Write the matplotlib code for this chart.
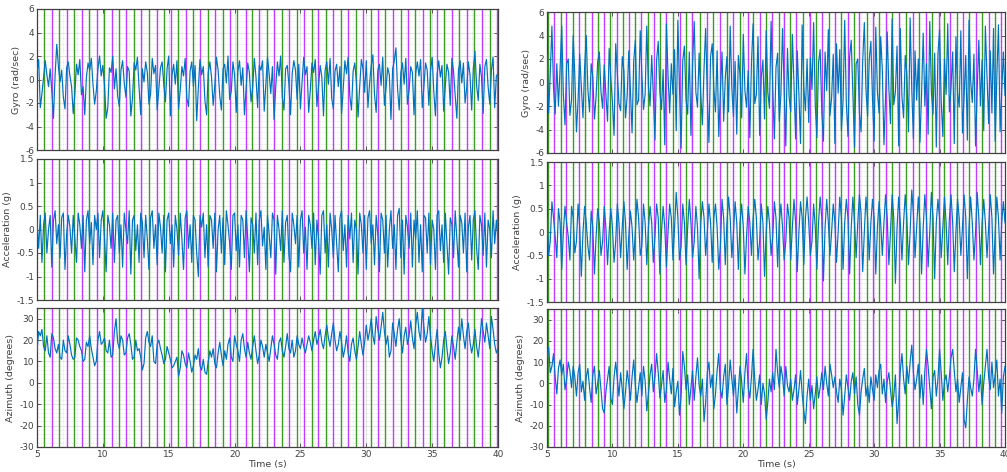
import numpy as np
import matplotlib
matplotlib.use("Agg")
import matplotlib.pyplot as plt
from matplotlib.ticker import MultipleLocator, FuncFormatter

plt.rcParams['axes.unicode_minus'] = False

# ---- data (0.125 s sampling) ----
t0, dt = 5.0, 0.125

# left column (walk 1)
gyro_L = [
    0.6, 1.7, -2.4, -1.2, 0.2, 1.6, 0.4, -0.6,
    0.9, -1.0, -3.3, 0.4, 3.0, 1.1, -0.2, 0.8,
    -1.5, -2.5, 1.0, 1.5, 0.3, -0.6, -2.9, -1.2,
    1.3, 0.4, 1.7, -1.3, -0.6, -3.0, 0.2, 1.4,
    0.8, 1.8, -0.4, -2.1, -1.0, 0.9, 2.0, 0.3,
    1.2, -0.5, -3.3, -2.4, 1.0, 0.6, 2.0, -0.8,
    0.9, -1.4, -2.3, 0.8, 1.6, -0.3, -1.5, 1.1,
    0.7, -3.1, -1.6, 1.4, 0.8, 1.9, -0.7, -3.0,
    0.9, -0.2, 1.5, 0.6, -2.1, -1.2, 1.8, 0.5,
    1.2, -2.6, -0.8, 1.0, 1.5, -0.4, -1.9, 0.9,
    2.0, -3.1, 0.4, 1.3, -0.4, 1.6, -2.5, -0.9,
    1.1, 0.3, 1.8, -1.6, -2.3, 0.7, 1.5, -0.6,
    1.2, -3.5, -0.7, 1.7, 0.4, 1.1, -1.8, -3.0,
    0.6, 1.5, 0.2, -2.2, -0.5, 1.9, 0.8, -1.4,
    -2.6, 0.9, 1.3, -0.3, 2.0, -1.7, -1.0, 1.5,
    0.4, -2.8, 0.7, 1.6, -0.5, 1.0, -3.0, -0.8,
    1.4, 0.6, -1.9, -0.7, 1.8, 0.2, -2.4, 1.2,
    0.8, 1.6, -2.7, -0.4, 1.9, 0.5, -1.2, 1.1,
    -3.4, -0.6, 1.5, 0.3, 2.0, -1.5, -2.6, 0.9,
    1.2, -0.4, -3.0, 0.5, 1.6, 0.8, -1.7, 1.3,
    -2.5, -0.2, 1.9, 0.4, 1.1, -2.8, -0.9, 1.4,
    0.6, 1.7, -2.3, -0.5, 1.2, 0.2, -3.1, 0.8,
    1.5, -0.4, 1.8, -1.6, -2.5, 0.7, 1.3, -0.6,
    1.1, -2.9, -0.8, 1.6, 0.5, 1.9, -1.4, -2.6,
    0.7, 1.4, -0.2, -3.2, -0.6, 1.7, 0.9, -1.1,
    1.6, -2.4, -0.3, 1.2, 2.1, -1.3, -2.8, 0.8,
    1.3, -0.5, 1.9, -2.2, -0.7, 1.0, 0.4, -3.4,
    0.9, 1.6, 2.7, -0.8, -2.6, 0.6, 1.4, -0.4,
    1.8, -2.1, -0.9, 1.1, 0.6, -3.0, 0.5, 1.5,
    0.3, 1.7, -2.4, -0.6, 1.4, 0.8, -2.2, 0.7,
    1.9, -1.0, -3.1, 0.4, 1.6, 0.2, 1.2, -2.7,
    -0.5, 1.3, 0.6, -2.2, 1.8, 0.7, -1.4, -3.3,
    0.8, 1.6, -0.3, 1.4, -2.0, -0.7, 1.5, 0.4,
    -2.6, 0.9, 2.4, -0.5, -1.8, 1.3, 0.2, -2.9,
    1.1, 1.7, -0.6, -2.1, 0.8, 1.9, -2.4, 0.3,
    0.5]

acc_L = [
    0.2, -0.4, 0.3, -0.7, 0.1, 0.35, -0.5, 0.0,
    0.3, -0.8, 0.2, 0.4, -0.3, 0.1, -0.6, 0.25,
    0.35, -0.85, -0.1, 0.3, 0.05, -0.5, 0.3, -0.2,
    -0.7, 0.35, 0.1, -0.4, 0.3, -0.9, 0.2, 0.4,
    -0.3, 0.15, -0.75, 0.3, 0.0, 0.35, -0.6, 0.2,
    0.4, -0.2, -0.9, 0.3, 0.1, -0.4, 0.35, -0.7,
    0.2, 0.3, -0.5, 0.1, -0.8, 0.35, 0.0, -0.3,
    0.4, -0.95, 0.2, 0.3, -0.45, 0.1, -0.7, 0.35,
    0.15, -0.6, 0.3, -0.2, -0.85, 0.25, 0.4, -0.4,
    0.1, -0.75, 0.35, 0.05, -0.5, 0.3, -0.9, 0.2,
    0.35, -0.3, 0.1, -0.8, 0.3, 0.0, -0.55, 0.35,
    -0.2, -0.85, 0.25, 0.4, -0.4, 0.1, -0.7, 0.3,
    0.2, -0.5, -1.0, 0.3, 0.05, 0.35, -0.6, 0.1,
    -0.8, 0.3, 0.2, -0.4, 0.35, -0.9, 0.0, 0.3,
    -0.5, 0.25, -0.75, 0.4, 0.1, -0.3, -0.85, 0.3,
    0.35, -0.45, 0.1, -0.8, 0.3, 0.2, -0.6, 0.4,
    -0.2, -0.9, 0.25, 0.1, -0.5, 0.35, -0.75, 0.2,
    0.4, -0.35, 0.05, -0.85, 0.3, -0.1, -0.6, 0.35,
    0.2, -0.95, 0.3, 0.0, -0.45, 0.4, -0.7, 0.15,
    0.3, -0.55, -0.9, 0.35, 0.1, -0.3, 0.3, -0.8,
    0.2, 0.4, -0.5, 0.05, -0.85, 0.3, 0.1, -0.4,
    0.35, -0.75, 0.2, -0.2, -0.95, 0.3, 0.4, -0.5,
    0.1, -0.8, 0.35, 0.0, -0.6, 0.3, -0.3, -0.9,
    0.25, 0.4, -0.45, 0.1, -0.8, 0.3, -0.2, 0.35,
    -0.7, 0.2, 0.0, -0.95, 0.35, 0.1, -0.5, 0.3,
    -0.85, 0.25, 0.4, -0.3, 0.1, -0.75, 0.3, -0.1,
    -0.9, 0.35, 0.2, -0.5, 0.3, -0.8, 0.0, 0.4,
    -0.4, 0.1, -0.85, 0.3, 0.45, -0.6, 0.2, -0.95,
    0.3, 0.05, -0.4, 0.35, -0.8, 0.2, -0.2, 0.4,
    -0.7, 0.1, -0.9, 0.3, 0.25, -0.5, 0.35, -0.75,
    0.2, 0.0, -0.85, 0.3, 0.4, -0.45, 0.1, -0.7,
    0.35, -0.3, -0.95, 0.25, 0.1, -0.6, 0.4, -0.2,
    -0.8, 0.3, 0.15, -0.5, 0.35, -0.9, 0.05, 0.3,
    -0.65, 0.2, 0.4, -0.4, -0.85, 0.3, 0.1, -0.55,
    0.35, -0.8, 0.2, 0.0, -0.6, 0.4, -0.3, 0.2,
    -0.2]

azi_L = [
    15, 24, 22, 25, 17, 15, 22, 14,
    12, 23, 21, 16, 14, 18, 12, 11,
    20, 15, 14, 22, 18, 13, 11, 12,
    21, 20, 17, 15, 10, 11, 19, 17,
    22, 16, 12, 8, 10, 20, 24, 18,
    19, 21, 15, 14, 20, 12, 13, 24,
    30, 19, 16, 22, 20, 13, 14, 21,
    23, 18, 11, 12, 20, 15, 16, 12,
    6, 9, 21, 24, 19, 17, 22, 10,
    9, 18, 20, 16, 13, 9, 11, 17,
    14, 11, 7, 8, 10, 12, 3, 7,
    15, 13, 9, 7, 14, 10, 5, 8,
    13, 11, 16, 8, 6, 11, 5, 4,
    10, 15, 12, 16, 9, 7, 14, 19,
    13, 8, 15, 11, 18, 21, 12, 10,
    22, 18, 15, 10, 20, 23, 16, 12,
    19, 14, 11, 17, 22, 15, 9, 13,
    20, 17, 12, 18, 14, 10, 16, 22,
    18, 13, 11, 19, 21, 15, 12, 17,
    23, 16, 14, 20, 12, 15, 22, 18,
    16, 21, 17, 14, 18, 22, 19, 15,
    20, 24, 18, 21, 25, 19, 16, 22,
    27, 21, 17, 23, 28, 20, 15, 18,
    24, 19, 12, 16, 22, 14, 10, 18,
    21, 15, 11, 17, 24, 18, 13, 19,
    27, 20, 24, 30, 22, 18, 31, 25,
    20, 26, 33, 24, 18, 22, 12, 15,
    28, 23, 17, 25, 30, 20, 14, 22,
    26, 18, 22, 29, 21, 16, 27, 33,
    24, 20, 35, 26, 19, 23, 31, 22,
    15, 10, 18, 25, 14, 7, 12, 20,
    24, 16, 9, 14, 22, 17, 11, 19,
    26, 20, 30, 22, 16, 24, 28, 19,
    14, 18, 25, 17, 12, 20, 30, 24,
    19, 28, 22, 16, 31, 25, 18, 14,
    16]

# right column (walk 2)
gyro_R = [
    2.4, -2.6, 0.8, 4.8, -0.5, -2.7, 1.6, -2.0,
    1.2, 4.8, -1.0, -3.6, 1.6, 2.0, -2.8, -1.5,
    4.0, 0.6, -4.2, -1.5, 2.4, -0.4, -3.0, 1.3,
    4.0, -0.6, -2.5, 1.6, 0.5, -3.1, -1.2, 1.8,
    2.6, -0.8, -2.2, 1.5, -1.0, -3.3, 2.9, 0.4,
    -1.7, -4.5, 3.3, 0.8, -1.8, -2.4, 2.2, 1.0,
    -3.0, -1.2, 2.7, -0.6, -4.3, 1.8, 3.6, -1.9,
    -1.5, 4.4, 0.7, -2.3, -1.0, 4.8, -0.3, -2.0,
    2.3, -1.0, -4.9, 1.9, 3.5, -0.8, -2.3, 1.1,
    -5.3, 5.0, 0.6, -2.6, 1.6, -1.0, 2.8, -4.1,
    5.3, -0.4, -5.6, 1.9, 3.1, -1.5, -2.7, 2.6,
    -4.5, 1.6, 5.2, -0.8, -2.1, 2.5, -1.0, -3.6,
    1.2, 4.6, -1.2, -5.1, 2.2, 3.3, -0.5, -2.5,
    2.7, -4.6, -0.8, 2.6, -3.3, 0.4, 2.2, -2.5,
    4.8, -0.5, -2.9, 1.8, -4.4, 2.3, 0.6, -3.0,
    4.1, -0.7, -2.1, 1.0, -4.7, 1.7, 5.0, -1.8,
    -1.0, 3.9, -4.5, 0.5, 1.9, -3.1, 4.4, -0.8,
    -2.2, 5.2, -0.4, -4.8, 1.3, 2.5, -3.3, -1.0,
    4.6, -0.6, -5.4, 2.9, -1.2, -2.5, 4.1, -0.2,
    -4.8, 2.7, -1.0, -5.2, 4.9, -0.4, -2.4, 2.0,
    -3.4, 2.1, -0.6, 5.1, -1.9, -4.7, 1.7, 2.8,
    -2.5, -5.0, 2.6, -0.7, 4.5, -2.8, -1.3, 2.4,
    -5.2, 3.3, -0.9, 2.8, -4.1, -1.6, 5.3, -1.8,
    -4.6, 2.2, 3.6, -1.0, -5.5, 1.6, 2.0, -2.6,
    -4.2, 1.8, 5.1, -0.6, -2.9, 1.9, 3.5, -1.4,
    -5.0, 4.7, -0.8, -2.6, 3.9, 1.1, -5.3, -1.2,
    4.3, -0.5, -3.5, 5.4, -1.9, -0.8, 3.1, -5.4,
    4.6, -1.2, -3.0, 2.3, 0.7, -4.2, 5.5, -0.6,
    -4.8, 2.7, -1.5, 2.0, -5.1, -1.0, 4.2, -2.0,
    1.6, -4.4, 5.2, -0.8, -2.7, 2.5, -5.5, 2.4,
    4.5, -1.6, -4.6, 2.0, -1.0, 5.0, -2.5, -0.4,
    2.6, -5.2, 3.9, -0.9, -2.1, 4.4, -4.3, -1.2,
    2.3, -4.9, 5.3, 0.2, -1.7, 2.4, -5.4, -0.6,
    3.6, -2.0, 1.9, -4.1, 4.8, 0.5, -3.5, 2.7,
    -2.6, 4.6, -5.0, 0.4, 4.9, -4.2, -0.8, 2.6,
    -1.1]

acc_R = [
    0.3, -0.5, -0.2, 0.65, 0.3, -0.1, -0.55, 0.5,
    0.2, -0.8, 0.0, 0.55, 0.2, -0.1, -0.6, 0.55,
    0.3, -0.45, -0.2, 0.6, 0.1, -0.95, 0.0, 0.55,
    0.2, -0.3, -0.6, 0.45, 0.1, -0.9, -0.1, 0.5,
    0.2, -0.5, -0.2, 0.55, 0.1, -0.7, 0.0, 0.5,
    0.1, -0.65, -0.2, 0.6, 0.2, -0.55, 0.1, 0.65,
    0.2, -0.8, -0.1, 0.45, 0.1, -0.6, 0.0, 0.7,
    0.3, -0.5, -0.3, 0.6, 0.2, -0.7, 0.1, 0.55,
    0.2, -0.65, -0.1, 0.6, 0.3, -0.9, 0.0, 0.55,
    0.1, -0.75, 0.0, 0.6, 0.3, -0.6, 0.1, 0.85,
    0.3, -0.6, -0.3, 0.6, 0.2, -0.7, 0.1, 0.7,
    0.2, -0.55, -0.2, 0.55, 0.1, -1.0, 0.2, 0.65,
    0.3, -0.5, 0.0, 0.6, 0.2, -0.65, 0.3, 0.6,
    0.1, -0.8, -0.3, 0.7, 0.3, -0.7, 0.2, 0.75,
    0.3, -0.55, 0.0, 0.65, 0.2, -0.8, 0.2, 0.6,
    0.1, -0.9, -0.1, 0.55, 0.2, -0.5, 0.3, 0.7,
    0.3, -0.6, -0.2, 0.6, 0.2, -0.95, 0.0, 0.55,
    0.2, -0.5, -0.1, 0.65, 0.3, -0.75, 0.2, 0.6,
    0.1, -0.6, -0.2, 0.6, 0.3, -0.6, 0.1, 0.7,
    0.2, -0.85, 0.0, 0.65, 0.3, -0.7, 0.3, 0.75,
    0.2, -0.5, -0.2, 0.6, 0.1, -0.8, 0.2, 0.75,
    0.3, -1.05, 0.1, 0.7, 0.2, -0.5, 0.0, 0.6,
    0.2, -0.65, 0.0, 0.75, 0.3, -0.8, 0.2, 0.7,
    0.3, -0.9, 0.1, 0.75, 0.2, -0.55, 0.2, 0.8,
    0.4, -0.85, 0.0, 0.75, 0.3, -0.6, 0.2, 0.7,
    0.3, -0.9, 0.1, 0.65, 0.2, -0.5, 0.2, 0.8,
    0.3, -0.7, 0.0, 0.8, 0.3, -1.1, 0.1, 0.75,
    0.2, -0.6, 0.2, 0.8, 0.3, -0.7, 0.0, 0.9,
    0.4, -0.55, 0.1, 0.75, 0.2, -0.9, 0.1, 0.8,
    0.3, -0.75, 0.0, 0.85, 0.3, -1.0, 0.2, 0.7,
    0.3, -0.55, 0.1, 0.75, 0.2, -0.7, 0.3, 0.8,
    0.2, -0.85, 0.0, 0.7, 0.3, -0.5, 0.1, 0.8,
    0.3, -1.0, 0.1, 0.75, 0.2, -0.6, 0.0, 0.85,
    0.3, -0.7, 0.2, 0.7, 0.2, -0.55, 0.1, 0.8,
    0.3, -0.9, 0.0, 0.75, 0.3, -0.6, 0.2, 0.65,
    0.2]

azi_R = [
    12, 17, 5, 8, 14, 3, -5, 7,
    11, 4, 9, -3, 2, 10, 6, -2,
    8, 3, -6, 5, 9, -4, 1, -8,
    3, 7, -2, -9, 4, 8, -5, 0,
    6, -3, -12, -14, -4, 2, 8, -7,
    -10, 3, 10, 2, -6, 5, -3, -12,
    -4, 6, 0, -8, 3, 11, -1, -9,
    -2, 5, -6, 8, 1, -13, -5, 4,
    9, -4, 3, 14, 5, -7, -1, 6,
    -9, -3, 10, 2, -5, 7, -11, -4,
    1, -15, -6, 15, 8, -3, 4, -10,
    -2, 6, -8, 3, 12, -1, -6, 2,
    -18, -9, 5, 10, -2, 4, -12, -5,
    6, 14, -3, -7, 3, 9, -10, -1,
    11, 2, -6, 4, -14, -3, 8, 1,
    -9, 5, 14, -2, -7, 3, 16, 2,
    -8, -3, 4, -10, 0, -5, -17, -9,
    2, -4, 5, -3, 16, 5, -2, 8,
    3, -6, 8, -1, -4, 2, -8, -3,
    4, -10, -3, 6, -5, -13, -19, -6,
    2, -8, -1, -12, -5, 3, -7, -2,
    5, -3, 8, 0, -6, 9, 4, -2,
    3, -4, -9, 2, -3, -15, -6, 4,
    -2, -8, 1, 5, -5, 3, -10, -15,
    -4, 2, 7, -6, -1, -9, 3, -3,
    -8, 4, -2, 6, 9, -5, 2, -9,
    1, 5, -3, -11, -6, 4, -19, -8,
    6, 14, 2, -5, 8, 0, 10, 18,
    5, -3, 2, 9, -7, 4, -10, 6,
    16, 8, -2, -12, 3, 6, -6, 2,
    16, 5, -8, 1, 4, -4, 3, 12,
    16, 6, -4, 2, -9, -2, 5, -17,
    -21, -8, 3, -2, -6, 2, 16, 6,
    -4, 4, -10, 0, 8, 16, 3, -3,
    10, -2, 4, 11, -6, 2, -14, 3,
    8]

# step events (s)
green_L = [5.53, 6.68, 7.82, 8.96, 10.10, 11.22, 12.34, 13.50, 14.62, 15.71,
           16.85, 17.97, 19.14, 20.20, 21.30, 22.44, 23.58, 24.72, 25.86, 26.94,
           28.06, 29.20, 30.34, 31.42, 32.61, 33.70, 34.84, 35.93, 37.07, 38.20,
           39.40]
mag_L = [6.17, 7.26, 8.38, 9.54, 10.66, 11.78, 12.92, 14.11, 15.18, 16.32,
         17.41, 18.55, 19.64, 20.84, 21.88, 23.02, 24.13, 25.30, 26.36, 27.50,
         28.64, 29.78, 30.92, 32.01, 33.15, 34.29, 35.40, 36.54, 37.67, 38.81,
         39.95]
green_R = [5.08, 6.07, 6.98, 7.87, 8.89, 9.82, 10.79, 11.73, 12.74, 13.64,
           14.65, 15.59, 16.68, 17.70, 18.72, 19.73, 20.75, 21.72, 22.73, 23.60,
           24.56, 25.53, 26.52, 27.48, 28.45, 29.44, 30.40, 31.37, 32.44, 33.45,
           34.42, 35.36, 36.30, 37.26, 38.28, 39.22]
mag_R = [5.56, 6.47, 7.46, 8.43, 9.39, 10.38, 11.25, 12.21, 13.18, 14.09,
         15.16, 16.05, 17.24, 18.21, 19.22, 20.37, 21.26, 22.23, 23.11, 24.05,
         25.07, 26.04, 27.03, 27.99, 28.88, 29.89, 30.91, 31.93, 32.94, 33.96,
         34.92, 35.81, 36.81, 37.77, 38.79, 39.72]

ylabels = ['Gyro (rad/sec)', 'Acceleration (g)', 'Azimuth (degrees)']
ylims = [(-6, 6), (-1.5, 1.5), (-30, 35)]
ymajor = [2, 0.5, 10]
yminor = [0.5, 0.1, 2]

blue = '#0072BD'
green = '#3c9c22'
magenta = '#c23cff'
txt = '#404040'

fig = plt.figure(figsize=(10.07, 4.72), dpi=100)

W, H = 1007, 472
# pixel boxes [left, top, right, bottom]
boxes_L = [(37, 9, 498, 150), (37, 159, 498, 300), (37, 308, 498, 447)]
boxes_R = [(547, 12, 1005, 153), (547, 162, 1005, 302), (547, 309, 1005, 447)]

cols = [((gyro_L, acc_L, azi_L), green_L, mag_L, boxes_L),
        ((gyro_R, acc_R, azi_R), green_R, mag_R, boxes_R)]

fmt = FuncFormatter(lambda v, p: '%g' % v)

for series, gl, ml, boxes in cols:
    for r in range(3):
        l, tp, rt, bt = boxes[r]
        ax = fig.add_axes([l / W, 1 - bt / H, (rt - l) / W, (bt - tp) / H])
        y = np.array(series[r], dtype=float)
        t = t0 + dt * np.arange(len(y))
        ax.set_xlim(5, 40)
        ax.set_ylim(*ylims[r])
        ax.xaxis.set_major_locator(MultipleLocator(5))
        ax.xaxis.set_minor_locator(MultipleLocator(1))
        ax.yaxis.set_major_locator(MultipleLocator(ymajor[r]))
        ax.yaxis.set_minor_locator(MultipleLocator(yminor[r]))
        ax.xaxis.set_major_formatter(fmt)
        ax.yaxis.set_major_formatter(fmt)
        ax.grid(which='major', color='#dedede', lw=0.6, ls='-')
        ax.grid(which='minor', color='#d6d6d6', lw=0.5, ls=':')
        ax.set_axisbelow(True)
        for x in gl:
            ax.axvline(x, color=green, lw=1.0, zorder=2)
        for x in ml:
            ax.axvline(x, color=magenta, lw=1.0, zorder=2)
        ax.plot(t, y, color=blue, lw=0.85, zorder=3)
        ax.tick_params(which='major', direction='in', length=3, width=0.6,
                       top=True, right=True, labelsize=6.5, colors=txt, pad=2)
        ax.tick_params(which='minor', length=0)
        for s in ax.spines.values():
            s.set_color('#404040')
            s.set_linewidth(0.9)
        ax.set_ylabel(ylabels[r], fontsize=6.8, color=txt, labelpad=3)
        if r < 2:
            ax.set_xticklabels([])
        else:
            ax.set_xlabel('Time (s)', fontsize=6.8, color=txt, labelpad=1)

fig.savefig('out.png', dpi=100)
